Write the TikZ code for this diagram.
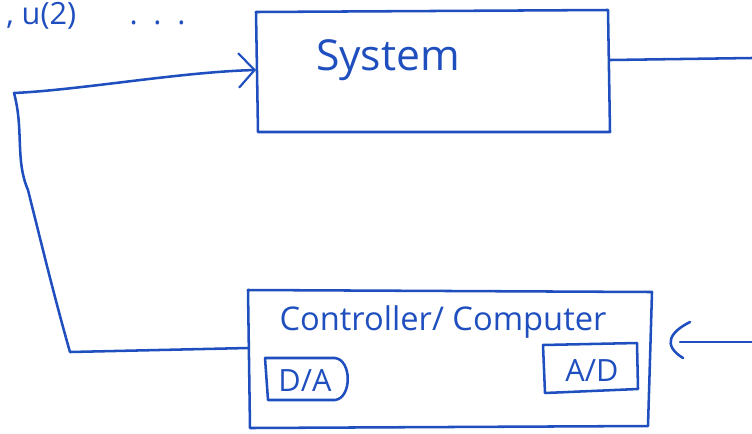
\documentclass[tikz,border=0pt]{standalone}
\usepackage{fontspec}
\setmainfont{Open Sans}
\usetikzlibrary{arrows.meta}
\definecolor{ink}{HTML}{1F4FBF}
\begin{document}
\begin{tikzpicture}[x=0.75pt,y=-0.75pt,
  pen/.style={draw=ink,line width=1.9pt,line cap=round,line join=round},
  lbl/.style={text=ink,inner sep=0pt,font=\fontsize{32}{36}\selectfont},
  tip/.style={-{Straight Barb[length=12pt,width=26pt,line width=1.6pt]}}]
\useasboundingbox (0,0) rectangle (752,433);
% blocks
\draw[pen] (256,12) -- (608,10) -- (610,132) -- (258,132) -- cycle;
\coordinate (sysW) at (256,70);
\coordinate (sysE) at (610,60);
\node[lbl] (sys) at (388,60) {System};
\draw[pen] (248,290) -- (652,292) -- (648,426) -- (250,428) -- cycle;
\coordinate (ctrlW) at (248,348);
\coordinate (ctrlE) at (652,345);
\node[lbl,font=\fontsize{24.5}{28}\selectfont] (ctrl) at (443,322) {Controller/ Computer};
\draw[pen] (268,400) -- (265,358) -- (335,358) .. controls (352,360) and (352,398) .. (335,400) -- cycle;
\node[lbl,font=\fontsize{23}{27}\selectfont] (da) at (305,380) {D/A};
\draw[pen] (543,345) -- (637,343) -- (638,389) -- (545,393) -- cycle;
\node[lbl,font=\fontsize{23}{27}\selectfont] (ad) at (592,370) {A/D};
% connectors
\coordinate (outE) at (752,58);
\draw[pen] (sysE) -- (outE);
\draw[pen,tip] (ctrlW) -- (70,352) .. controls (55,300) and (38,230) .. (28,190)
  .. controls (15,160) and (24,130) .. (14,93)
  .. controls (80,90) and (180,72) .. (sysW);
\coordinate (inE) at (752,342);
\draw[pen] (inE) -- (680,342);
\draw[pen] (690,322) .. controls (670,332) and (662,345) .. (683,358);
% top-left text
\node[lbl,font=\fontsize{23}{25}\selectfont,anchor=base west] (u) at (6,24) {, u(2)\hspace{40pt}. \,. \,. };
\end{tikzpicture}
\end{document}
